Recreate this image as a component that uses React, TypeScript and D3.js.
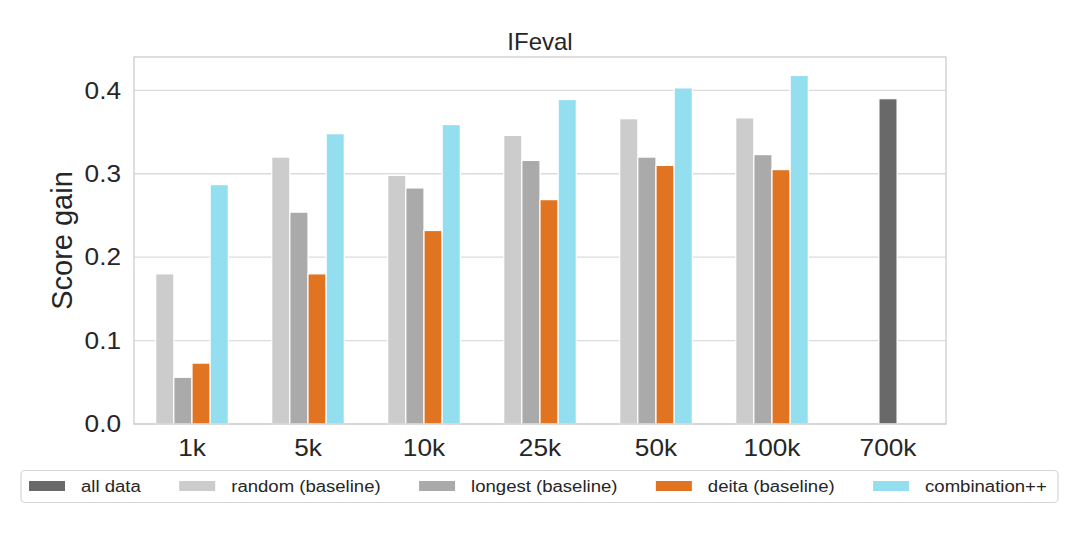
import * as d3 from "d3";
import { useEffect, useRef } from "react";

const categories = ["1k", "5k", "10k", "25k", "50k", "100k", "700k"];

const allData = [null, null, null, null, null, null, 0.39];
const random = [0.18, 0.32, 0.298, 0.346, 0.366, 0.367, null];
const longest = [0.056, 0.254, 0.283, 0.316, 0.32, 0.323, null];
const deita = [0.073, 0.18, 0.232, 0.269, 0.31, 0.305, null];
const combination = [0.287, 0.348, 0.359, 0.389, 0.403, 0.418, null];

const seriesNames = ["all data", "random (baseline)", "longest (baseline)", "deita (baseline)", "combination++"];
const seriesValues = [allData, random, longest, deita, combination];
const seriesColors = ["#696969", "#cccccc", "#aaaaaa", "#e07421", "#93deef"];

const yTicks = [0, 0.1, 0.2, 0.3, 0.4];

const FONT = "'Liberation Sans', Arial, Helvetica, sans-serif";

export default function App() {
  const ref = useRef<SVGSVGElement | null>(null);

  useEffect(() => {
    const el = ref.current;
    if (!el) return;
    const svg = d3.select(el);
    svg.selectAll("*").remove();

    const width = 1080;
    const height = 540;
    const plot = { left: 134, right: 946, top: 57, bottom: 424 };

    svg.attr("width", width).attr("height", height).attr("viewBox", `0 0 ${width} ${height}`);
    svg.append("rect").attr("width", width).attr("height", height).attr("fill", "#ffffff");

    const x = d3.scaleBand<string>().domain(categories).range([plot.left, plot.right]).padding(0);
    const y = d3.scaleLinear().domain([0, 0.44]).range([plot.bottom, plot.top]);
    const slot = x.step() * 0.1565;

    // grid
    svg
      .append("g")
      .selectAll("line")
      .data(yTicks)
      .enter()
      .append("line")
      .attr("x1", plot.left)
      .attr("x2", plot.right)
      .attr("y1", (d) => y(d))
      .attr("y2", (d) => y(d))
      .attr("stroke", "#dcdcdc")
      .attr("stroke-width", 1.3);

    // bars, each group centred on its tick
    const bars = svg.append("g");
    categories.forEach((cat, ci) => {
      const present = seriesValues
        .map((vals, si) => ({ si, v: vals[ci] }))
        .filter((d) => d.v != null) as { si: number; v: number }[];
      const center = (x(cat) ?? 0) + x.bandwidth() / 2;
      const start = center - (present.length * slot) / 2;
      bars
        .selectAll(`rect.c${ci}`)
        .data(present)
        .enter()
        .append("rect")
        .attr("class", `c${ci}`)
        .attr("x", (_, i) => start + i * slot)
        .attr("y", (d) => y(d.v))
        .attr("width", slot)
        .attr("height", (d) => y(0) - y(d.v))
        .attr("fill", (d) => seriesColors[d.si])
        .attr("stroke", "#ffffff")
        .attr("stroke-width", 1.2);
    });

    // frame
    svg
      .append("rect")
      .attr("x", plot.left)
      .attr("y", plot.top)
      .attr("width", plot.right - plot.left)
      .attr("height", plot.bottom - plot.top)
      .attr("fill", "none")
      .attr("stroke", "#cccccc")
      .attr("stroke-width", 1.3);

    // y tick labels
    svg
      .append("g")
      .selectAll("text")
      .data(yTicks)
      .enter()
      .append("text")
      .attr("transform", (d) => `translate(121,${y(d) + 8.3}) scale(1.14,1)`)
      .attr("text-anchor", "end")
      .attr("font-family", FONT)
      .attr("font-size", 23)
      .attr("fill", "#262626")
      .text((d) => d3.format(".1f")(d));

    // x tick labels
    svg
      .append("g")
      .selectAll("text")
      .data(categories)
      .enter()
      .append("text")
      .attr("transform", (d) => `translate(${(x(d) ?? 0) + x.bandwidth() / 2},455.5) scale(1.14,1)`)
      .attr("text-anchor", "middle")
      .attr("font-family", FONT)
      .attr("font-size", 23)
      .attr("fill", "#262626")
      .text((d) => d);

    // title
    svg
      .append("text")
      .attr("x", (plot.left + plot.right) / 2)
      .attr("y", 50)
      .attr("text-anchor", "middle")
      .attr("font-family", FONT)
      .attr("font-size", 24)
      .attr("fill", "#262626")
      .text("IFeval");

    // y label
    svg
      .append("text")
      .attr("transform", `translate(71.5,${(plot.top + plot.bottom) / 2}) rotate(-90)`)
      .attr("text-anchor", "middle")
      .attr("font-family", FONT)
      .attr("font-size", 29)
      .attr("fill", "#262626")
      .text("Score gain");

    // legend
    const legend = svg.append("g");
    legend
      .append("rect")
      .attr("x", 21)
      .attr("y", 470.5)
      .attr("width", 1037)
      .attr("height", 32)
      .attr("rx", 4)
      .attr("fill", "#ffffff")
      .attr("stroke", "#d6d6d6")
      .attr("stroke-width", 1.2);

    let cx = 29;
    seriesNames.forEach((name, i) => {
      legend
        .append("rect")
        .attr("x", cx)
        .attr("y", 481)
        .attr("width", 36)
        .attr("height", 10)
        .attr("fill", seriesColors[i]);
      const tx = cx + 52;
      const t = legend
        .append("text")
        .attr("transform", `translate(${tx},492.3) scale(1.16,1)`)
        .attr("font-family", FONT)
        .attr("font-size", 16)
        .attr("fill", "#262626")
        .text(name);
      const w = ((t.node() as SVGTextElement | null)?.getComputedTextLength() ?? 0) * 1.16;
      cx = tx + w + 38.4;
    });
  }, []);

  return <svg ref={ref} style={{ position: "absolute", left: 0, top: 0, display: "block" }} />;
}
